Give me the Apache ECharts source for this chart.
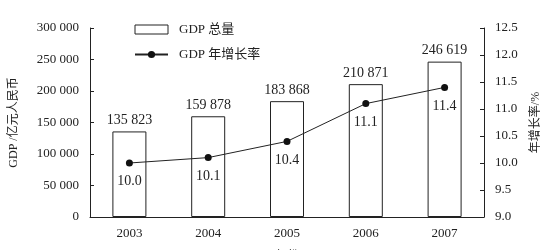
<!DOCTYPE html>
<html>
<head>
<meta charset="utf-8">
<script src="https://cdn.jsdelivr.net/npm/echarts@6/dist/echarts.min.js"></script>
<style>
  html, body { margin: 0; padding: 0; background: #fff; }
  #chart { width: 550px; height: 250px; }
</style>
</head>
<body>
<div id="chart"></div>
<script>
// data
const years = ['2003', '2004', '2005', '2006', '2007']
const gdpTotal = [135823, 159878, 183868, 210871, 246619]
const gdpGrowth = [10.0, 10.1, 10.4, 11.1, 11.4]

const FONT = '"Liberation Serif", "Noto Sans CJK SC", serif'
const INK = '#222'

// 135823 -> "135 823"
function spaced (v) {
    return String(v).replace(/\B(?=(\d{3})+(?!\d))/g, ' ')
}

const myChart = echarts.init(document.getElementById('chart'))

const option = {
    animation: false,
    textStyle: { fontFamily: FONT, color: INK },
    legend: {
        orient: 'vertical',
        left: 129,
        top: 18,
        itemWidth: 33,
        itemHeight: 9,
        itemGap: 12,
        textStyle: { fontFamily: FONT, fontSize: 13, color: INK, padding: [0, 0, 0, 6] },
        data: [
            { name: 'GDP 总量', icon: 'rect', itemStyle: { color: '#fff', borderColor: INK, borderWidth: 1 } },
            { name: 'GDP 年增长率' }
        ]
    },
    grid: { left: 90, right: 66, top: 28, bottom: 33, outerBoundsMode: 'none' },
    xAxis: {
        type: 'category',
        data: years,
        name: '年份',
        nameLocation: 'middle',
        nameGap: 34,
        nameTextStyle: { fontFamily: FONT, fontSize: 12, color: INK },
        axisLine: { lineStyle: { color: INK } },
        axisTick: { inside: true, length: 4, lineStyle: { color: INK } },
        axisLabel: { fontFamily: FONT, fontSize: 13, color: INK, margin: 10 }
    },
    yAxis: [
        {
            type: 'value',
            min: 0,
            max: 300000,
            interval: 50000,
            name: 'GDP /亿元人民币',
            nameLocation: 'middle',
            nameRotate: 90,
            nameGap: 70,
            nameTextStyle: { fontFamily: FONT, fontSize: 12, color: INK },
            splitLine: { show: false },
            axisLine: { show: true, lineStyle: { color: INK } },
            axisTick: { show: true, inside: true, length: 4, lineStyle: { color: INK } },
            axisLabel: { fontFamily: FONT, fontSize: 13, color: INK, margin: 11, formatter: spaced }
        },
        {
            type: 'value',
            min: 9,
            max: 12.5,
            interval: 0.5,
            position: 'right',
            name: '年增长率/%',
            nameLocation: 'middle',
            nameRotate: 90,
            nameGap: 46,
            nameTextStyle: { fontFamily: FONT, fontSize: 12, color: INK },
            splitLine: { show: false },
            axisLine: { show: true, lineStyle: { color: INK } },
            axisTick: { show: true, inside: true, length: 4, lineStyle: { color: INK } },
            axisLabel: { fontFamily: FONT, fontSize: 13, color: INK, margin: 11, formatter: v => v.toFixed(1) }
        }
    ],
    series: [
        {
            name: 'GDP 总量',
            type: 'bar',
            data: gdpTotal,
            barWidth: 34,
            itemStyle: { color: '#fff', borderColor: INK, borderWidth: 1 },
            label: {
                show: true,
                position: 'top',
                distance: 4,
                fontFamily: FONT,
                fontSize: 14,
                color: INK,
                formatter: p => spaced(p.value)
            }
        },
        {
            name: 'GDP 年增长率',
            type: 'line',
            yAxisIndex: 1,
            data: gdpGrowth,
            symbol: 'circle',
            symbolSize: 7,
            lineStyle: { color: INK, width: 1 },
            itemStyle: { color: '#111' },
            label: {
                show: true,
                position: 'bottom',
                distance: 8,
                fontFamily: FONT,
                fontSize: 14,
                color: INK,
                formatter: p => p.value.toFixed(1)
            }
        }
    ]
}

option && myChart.setOption(option)
</script>
</body>
</html>
